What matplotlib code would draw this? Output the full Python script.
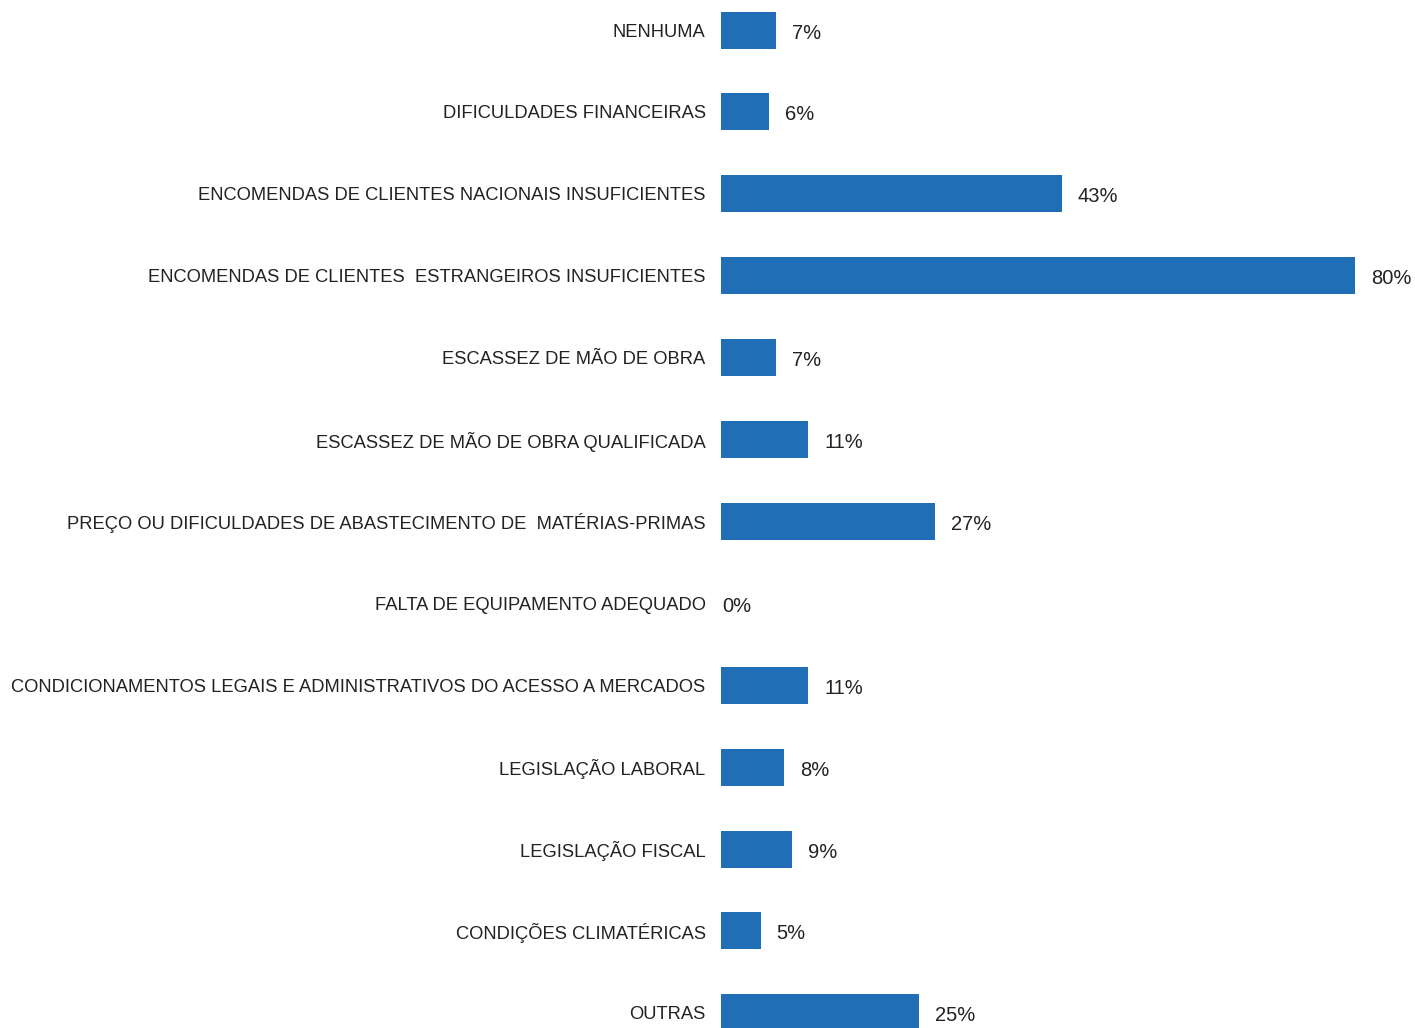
import matplotlib.pyplot as plt
import numpy as np

# Obstacles reported, share of respondents (%)
categories = [
    "NENHUMA",
    "DIFICULDADES FINANCEIRAS",
    "ENCOMENDAS DE CLIENTES NACIONAIS INSUFICIENTES",
    "ENCOMENDAS DE CLIENTES  ESTRANGEIROS INSUFICIENTES",
    "ESCASSEZ DE MÃO DE OBRA",
    "ESCASSEZ DE MÃO DE OBRA QUALIFICADA",
    "PREÇO OU DIFICULDADES DE ABASTECIMENTO DE  MATÉRIAS-PRIMAS",
    "FALTA DE EQUIPAMENTO ADEQUADO",
    "CONDICIONAMENTOS LEGAIS E ADMINISTRATIVOS DO ACESSO A MERCADOS",
    "LEGISLAÇÃO LABORAL",
    "LEGISLAÇÃO FISCAL",
    "CONDIÇÕES CLIMATÉRICAS",
    "OUTRAS",
]
values = [7, 6, 43, 80, 7, 11, 27, 0, 11, 8, 9, 5, 25]

bar_color = "#1f6eb6"
text_color = "#222222"

plt.rcParams["font.family"] = ["Liberation Sans", "DejaVu Sans"]

W, H = 1415, 1028
fig = plt.figure(figsize=(W / 100, H / 100), dpi=100)

# axes starts where the bars start and runs to the right edge
x0 = 721
ax = fig.add_axes([x0 / W, 0, 1 - x0 / W, 1])

step = 81.9
first = 30.0
y = np.arange(len(categories))
ax.barh(y, values, height=37 / step, color=bar_color)

ax.set_xlim(0, (W - x0) / 7.925)
ax.set_ylim((H - first) / step, -first / step)

ax.set_yticks(y)
ax.set_yticklabels(categories, fontsize=13.2, color=text_color)
ax.tick_params(axis="y", length=0, pad=11)
ax.set_xticks([])
for s in ax.spines.values():
    s.set_visible(False)

# value labels to the right of each bar
for yi, v in zip(y, values):
    off = 16 if v > 0 else 1
    ax.annotate(f"{v}%", (v, yi), xytext=(off, -1), textcoords="offset pixels",
                va="center_baseline", ha="left", fontsize=14.5, color=text_color)

fig.savefig("out.png", dpi=100)
